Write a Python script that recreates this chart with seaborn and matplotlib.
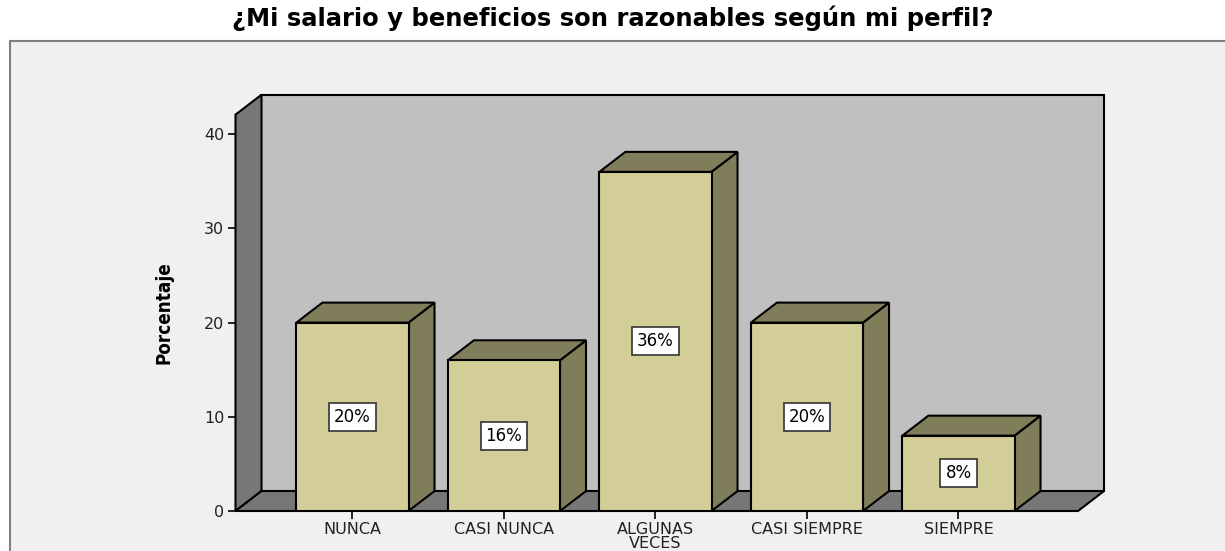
import numpy as np
import pandas as pd
import seaborn as sns
import matplotlib.pyplot as plt
from matplotlib.patches import Polygon, Rectangle

categorias = ['NUNCA', 'CASI NUNCA', 'ALGUNAS\nVECES', 'CASI SIEMPRE', 'SIEMPRE']
porcentajes = [20, 16, 36, 20, 8]
etiquetas = ['20%', '16%', '36%', '20%', '8%']
yticks = [0, 10, 20, 30, 40]

titulo = '¿Mi salario y beneficios son razonables según mi perfil?'

sns.set_style('white')
plt.rcParams['font.family'] = ['DejaVu Sans']
plt.rcParams['text.color'] = 'black'
plt.rcParams['axes.labelcolor'] = 'black'

fig = plt.figure(figsize=(12.25, 5.51), dpi=100)
fig.patch.set_facecolor('white')

# marco gris claro tipo SPSS
fig.patches.append(Rectangle((10 / 1225, -0.02), 1.05, (551 - 41) / 551 + 0.02,
                             transform=fig.transFigure, facecolor='#F0F0F0',
                             edgecolor='#808080', linewidth=1.5, zorder=-1))

ax = fig.add_axes([235.5 / 1225, 40 / 551, 868.5 / 1225, 416.3 / 551])
ax.set_facecolor('none')
ax.set_zorder(1)

df = pd.DataFrame({'cat': categorias, 'pct': porcentajes})
sns.barplot(data=df, x='cat', y='pct', order=categorias, color='#D3CE97',
            saturation=1, width=0.74, edgecolor='black', linewidth=1.5, ax=ax)

x0, x1 = -0.772, 4.789
dx, dy = 0.1716, 2.12
ytop = 42.07
ax.set_xlim(x0, x1 + dx)
ax.set_ylim(0, ytop + dy)

# paredes 3D
pared_fondo = Polygon([(x0 + dx, dy), (x1 + dx, dy), (x1 + dx, ytop + dy), (x0 + dx, ytop + dy)],
                      closed=True, facecolor='#C0C0C0', edgecolor='black', linewidth=1.5, zorder=0.5)
pared_izq = Polygon([(x0, 0), (x0 + dx, dy), (x0 + dx, ytop + dy), (x0, ytop)],
                    closed=True, facecolor='#777777', edgecolor='black', linewidth=1.5, zorder=0.6)
piso = Polygon([(x0, 0), (x0 + dx, dy), (x1 + dx, dy), (x1, 0)],
               closed=True, facecolor='#777777', edgecolor='black', linewidth=1.5, zorder=0.6)
for p in (pared_fondo, pared_izq, piso):
    p.set_clip_on(False)
    ax.add_patch(p)

for bar, lab in zip(list(ax.patches)[:len(categorias)], etiquetas):
    bx, bw, bh = bar.get_x(), bar.get_width(), bar.get_height()
    bar.set_zorder(3)
    lado = Polygon([(bx + bw, 0), (bx + bw + dx, dy), (bx + bw + dx, bh + dy), (bx + bw, bh)],
                   closed=True, facecolor='#807E5A', edgecolor='black', linewidth=1.5, zorder=2.5)
    tapa = Polygon([(bx, bh), (bx + dx, bh + dy), (bx + bw + dx, bh + dy), (bx + bw, bh)],
                   closed=True, facecolor='#807E5A', edgecolor='black', linewidth=1.5, zorder=2.5)
    ax.add_patch(lado)
    ax.add_patch(tapa)
    ax.text(bx + bw / 2, bh / 2, lab, ha='center', va='center', fontsize=12, zorder=4,
            bbox=dict(boxstyle='square,pad=0.3', facecolor='white', edgecolor='#333333', linewidth=1.2))

for s in ax.spines.values():
    s.set_visible(False)

ax.set_yticks(yticks)
ax.set_yticklabels([str(v) for v in yticks], fontsize=11.5, color='#222222')
ax.tick_params(axis='y', direction='out', length=6, width=1.2, color='black', left=True, pad=2)
ax.tick_params(axis='x', direction='out', length=6, width=1.2, color='black', bottom=True, pad=2,
               labelsize=11.5, labelcolor='#222222')
for t in ax.get_xticklabels():
    t.set_linespacing(0.9)
ax.set_xlabel('')
ax.set_ylabel('Porcentaje', fontsize=13.5, fontweight='bold', fontstretch='condensed')
ax.yaxis.set_label_coords(-0.071, 0.4756)

fig.text(0.5, 1 - 18 / 551, titulo, ha='center', va='center', fontsize=17.5, fontweight='bold')

fig.savefig('out.png', dpi=100)
